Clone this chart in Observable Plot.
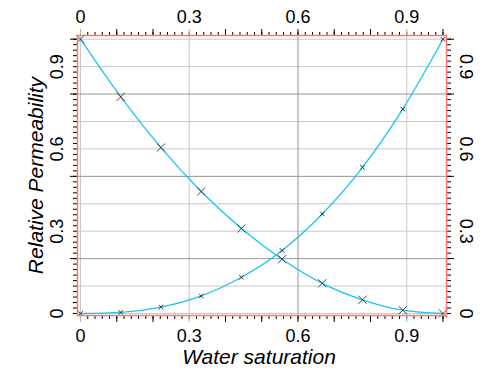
<!DOCTYPE html>
<html><head><meta charset="utf-8">
<script src="https://cdn.jsdelivr.net/npm/d3@7"></script>
<script src="https://cdn.jsdelivr.net/npm/@observablehq/plot@0.6"></script>
<style>html,body{margin:0;padding:0;background:#fff;overflow:hidden;}</style>
</head><body><div id="chart"></div>
<script>
// Data
const waterSaturation = [0, 0.111, 0.222, 0.333, 0.444, 0.556, 0.667, 0.778, 0.889, 1];
const krOil   = [1, 0.79, 0.605, 0.445, 0.31, 0.198, 0.11, 0.05, 0.012, 0];
const krWater = [0, 0.004, 0.023, 0.064, 0.132, 0.23, 0.363, 0.533, 0.745, 1];
const xTickLabels = [0, 0.3, 0.6, 0.9];
const yTickLabels = [0, 0.3, 0.6, 0.9];
const xTitle = "Water saturation";
const yTitle = "Relative Permeability";

// Grid / tick structure
const lightX = [0, 0.3, 0.9];
const darkX = [0.6];
const lightY = [0, 0.1, 0.3, 0.4, 0.6, 0.7, 0.9, 1];
const darkY = [0.2, 0.5, 0.8];
const minorTicks = d3.range(0, 51).map(i => i / 50);
const majorXBlack = [0.1, 0.2, 0.4, 0.5, 0.6, 0.7, 0.8, 1];
const majorYBlack = [0.2, 0.5, 0.8, 1];

const points = waterSaturation.map((sw, i) => ({sw, kro: krOil[i], krw: krWater[i]}));

const lineColor = "#1cc4f2";
const frameColor = "#ff7878";
const fontFamily = "'Liberation Sans', Arial, sans-serif";

const tickOpts = (anchor, size, color) => ({anchor, tickSize: size, fill: "none", stroke: color});

const chart = Plot.plot({
  width: 497,
  height: 376,
  marginLeft: 77,
  marginRight: 51,
  marginTop: 35,
  marginBottom: 61,
  x: {domain: [-0.0083, 1.0097], label: null},
  y: {domain: [-0.0073, 1.0135], label: null},
  style: {fontFamily, background: "#fff", color: "#000"},
  marks: [
    Plot.ruleX(lightX, {stroke: "#c8c8c8"}),
    Plot.ruleY(lightY, {stroke: "#c8c8c8"}),
    Plot.ruleX(darkX, {stroke: "#959595"}),
    Plot.ruleY(darkY, {stroke: "#959595"}),

    // ticks
    Plot.axisX(minorTicks, tickOpts("bottom", 4, "#000")),
    Plot.axisX(minorTicks, tickOpts("top", 4, "#000")),
    Plot.axisX(majorXBlack, tickOpts("bottom", 7, "#000")),
    Plot.axisX(majorXBlack, tickOpts("top", 7, "#000")),
    Plot.axisX(lightX, tickOpts("bottom", 7, "#b0b0b0")),
    Plot.axisX(lightX, tickOpts("top", 7, "#b0b0b0")),
    Plot.axisY(minorTicks, tickOpts("left", 4, "#000")),
    Plot.axisY(minorTicks, tickOpts("right", 4, "#000")),
    Plot.axisY(majorYBlack, tickOpts("left", 7, "#000")),
    Plot.axisY(majorYBlack, tickOpts("right", 7, "#000")),

    // tick labels
    Plot.text(xTickLabels, {x: d => d, frameAnchor: "bottom", dy: 21, text: d => String(d), fontSize: 18, lineAnchor: "middle"}),
    Plot.text(xTickLabels, {x: d => d, frameAnchor: "top", dy: -18, text: d => String(d), fontSize: 18, lineAnchor: "middle"}),
    Plot.text(yTickLabels, {y: d => d, frameAnchor: "left", dx: -20, rotate: -90, text: d => String(d), fontSize: 18, lineAnchor: "middle", textAnchor: "middle"}),
    Plot.text(yTickLabels, {y: d => d, frameAnchor: "right", dx: 19, rotate: 90, text: d => String(d), fontSize: 18, lineAnchor: "middle", textAnchor: "middle"}),

    // titles
    Plot.text([xTitle], {frameAnchor: "bottom", dy: 42, dx: -3, text: d => d, fontSize: 21, fontStyle: "italic", lineAnchor: "middle", textAnchor: "middle"}),
    Plot.text([yTitle], {frameAnchor: "left", dx: -41, rotate: -90, text: d => d, fontSize: 21, fontStyle: "italic", lineAnchor: "middle", textAnchor: "middle"}),

    // curves
    Plot.line(points, {x: "sw", y: "kro", stroke: lineColor, strokeWidth: 1.3, curve: "monotone-x"}),
    Plot.line(points, {x: "sw", y: "krw", stroke: lineColor, strokeWidth: 1.3, curve: "monotone-x"}),
    Plot.dot(points, {x: "sw", y: "kro", symbol: "times", r: 3.8, stroke: "#333", strokeWidth: 0.9}),
    Plot.dot(points, {x: "sw", y: "krw", symbol: "times", r: 2.2, stroke: "#222", strokeWidth: 0.9}),

    Plot.frame({stroke: frameColor, strokeWidth: 1.5})
  ]
});
document.getElementById("chart").appendChild(chart);
</script>
</body></html>
